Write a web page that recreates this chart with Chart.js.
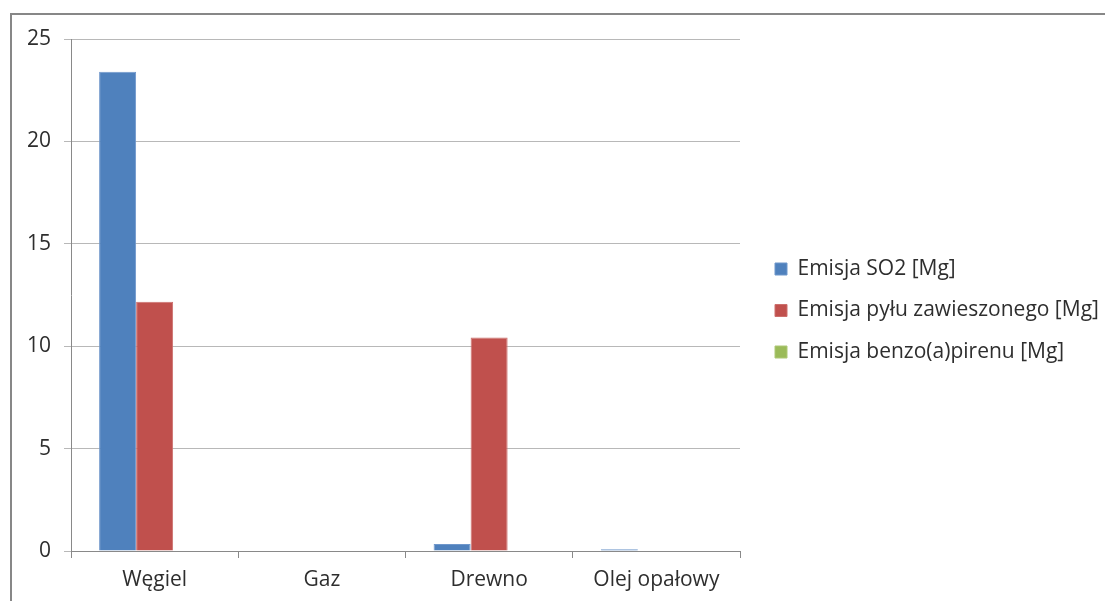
<!DOCTYPE html>
<html lang="pl">
<head>
<meta charset="utf-8">
<title>Emisja zanieczyszczeń wg rodzaju paliwa</title>
<script src="https://cdn.jsdelivr.net/npm/chart.js@4/dist/chart.umd.min.js"></script>
<style>
  html, body { margin: 0; padding: 0; background: #fff; }
  #wrap { width: 1105px; height: 601px; position: relative; }
</style>
</head>
<body>
<div id="wrap"><canvas id="chart" width="1105" height="601"></canvas></div>
<script>
// Kategorie paliw
const categories = ['Węgiel', 'Gaz', 'Drewno', 'Olej opałowy'];

// Emisje [Mg] dla poszczególnych paliw
const so2Values = [23.4, 0, 0.34, 0.08];
const dustValues = [12.17, 0, 10.43, 0];
const bapValues = [0, 0, 0, 0];

// Nazwy serii
const seriesNames = ['Emisja SO2 [Mg]', 'Emisja pyłu zawieszonego [Mg]', 'Emisja benzo(a)pirenu [Mg]'];

// Oś wartości
const yTicks = [0, 5, 10, 15, 20, 25];

const FONT = { family: '"Open Sans", "Liberation Sans", sans-serif', size: 21 };
const TEXT = '#2e2e2e';
const AXIS = '#898989';
const GRID = '#b8b8b8';

// Ramka wokół całego wykresu
const frame = {
  id: 'frame',
  beforeDraw(chart) {
    const ctx = chart.ctx;
    ctx.save();
    ctx.fillStyle = '#fff';
    ctx.fillRect(0, 0, chart.width, chart.height);
    ctx.strokeStyle = '#878787';
    ctx.lineWidth = 2;
    ctx.strokeRect(11, 14, chart.width + 100, chart.height + 100);
    ctx.restore();
  }
};

// Stała szerokość legendy i jej przesunięcie względem obszaru wykresu
const legendBox = {
  id: 'legendBox',
  beforeInit(chart) {
    const legend = chart.legend;
    const fit = legend.fit;
    legend.fit = function () {
      fit.call(this);
      this.width = 365;
    };
  },
  afterLayout(chart) {
    const legend = chart.legend;
    legend.left += 14.5;
    legend.right += 14.5;
    legend.top -= 9.5;
    legend.bottom -= 9.5;
  }
};

new Chart(document.getElementById('chart'), {
  type: 'bar',
  data: {
    labels: categories,
    datasets: [
      { label: seriesNames[0], data: so2Values, backgroundColor: '#4f81bd', borderColor: '#6f97cb', borderWidth: 1 },
      { label: seriesNames[1], data: dustValues, backgroundColor: '#c0504d', borderColor: '#cc6f6c', borderWidth: 1 },
      { label: seriesNames[2], data: bapValues, backgroundColor: '#9bbb59', borderColor: '#aec877', borderWidth: 1 }
    ]
  },
  options: {
    responsive: false,
    animation: false,
    events: [],
    layout: { padding: { left: 0, top: 39, right: 0, bottom: 0 } },
    datasets: { bar: { barPercentage: 1, categoryPercentage: 0.664 } },
    scales: {
      x: {
        afterFit(scale) { scale.height = 50; },
        grid: {
          offset: true,
          drawOnChartArea: false,
          drawTicks: true,
          tickLength: 7,
          color: AXIS,
          lineWidth: 1
        },
        border: { display: true, color: AXIS, width: 1 },
        ticks: { color: TEXT, font: FONT, padding: 9, maxRotation: 0 }
      },
      y: {
        min: 0,
        max: 25,
        afterFit(scale) { scale.width = 71; },
        afterBuildTicks(scale) { scale.ticks = yTicks.map(v => ({ value: v })); },
        grid: {
          color: GRID,
          lineWidth: 1,
          drawTicks: true,
          tickLength: 7,
          tickColor: GRID
        },
        border: { display: true, color: AXIS, width: 1 },
        ticks: { color: TEXT, font: FONT, padding: 13 }
      }
    },
    plugins: {
      tooltip: { enabled: false },
      legend: {
        position: 'right',
        align: 'center',
        labels: {
          color: TEXT,
          font: FONT,
          boxWidth: 12,
          boxHeight: 12,
          padding: 20.5
        }
      }
    }
  },
  plugins: [frame, legendBox]
});
</script>
</body>
</html>
